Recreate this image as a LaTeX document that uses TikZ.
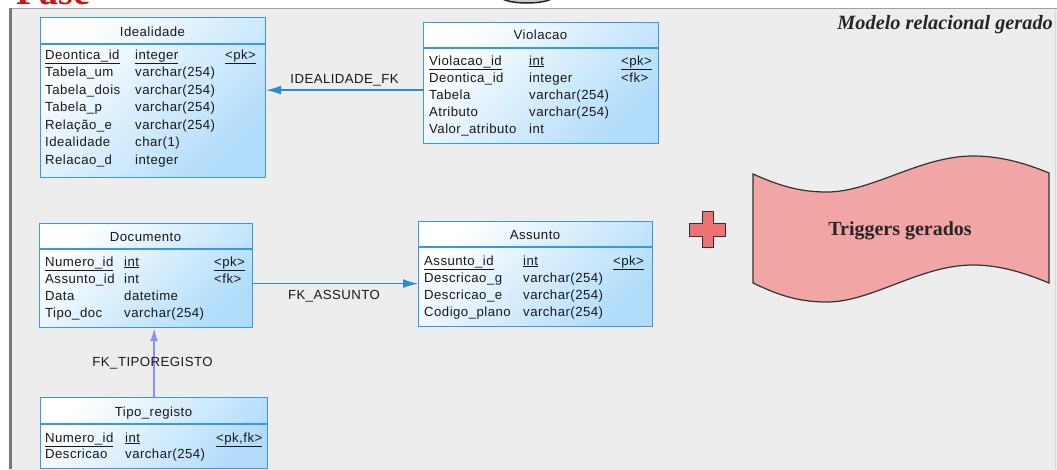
\documentclass[tikz,border=0pt]{standalone}
\usepackage{fontspec}
\setmainfont{Liberation Serif}
\newfontfamily\tabfont[LetterSpace=3.5]{Liberation Sans}
\usetikzlibrary{arrows.meta,shadows}

\definecolor{panelbg}{RGB}{237,237,237}
\definecolor{panelrule}{RGB}{120,120,120}
\definecolor{tblborder}{RGB}{56,150,235}
\definecolor{tblshade}{RGB}{176,220,250}
\definecolor{fkblue}{RGB}{40,140,210}
\definecolor{fkviolet}{RGB}{140,140,250}
\definecolor{bannerfill}{RGB}{242,165,165}
\definecolor{crossfill}{RGB}{240,115,115}
\definecolor{outline}{RGB}{50,50,50}
\definecolor{faseRed}{RGB}{205,20,20}

\tikzset{
  entity/.style={rectangle, draw=tblborder, line width=1.2pt, top color=white,
    bottom color=tblshade, shading angle=45, inner sep=0pt, anchor=north west},
  headsep/.style={draw=tblborder, line width=1.2pt},
  tabtext/.style={font=\tabfont\fontsize{13.2}{15}\selectfont, text=black!90, inner sep=0pt},
  title/.style={tabtext, anchor=base},
  fld/.style={tabtext, anchor=base west},
  fklabel/.style={tabtext, anchor=base},
  fk/.style={draw=fkblue, line width=1.3pt, -{Latex[length=15pt,width=9pt]}},
  fkv/.style={draw=fkviolet, line width=1.6pt, -{Latex[length=13pt,width=8pt]}},
}

% horizontal rule under an entity's title
\newcommand\headrule[2]{\draw[headsep] ([yshift=-#2]#1.north west) -- ([yshift=-#2]#1.north east);}

\begin{document}
\begin{tikzpicture}[x=1pt,y=-1pt]
\useasboundingbox (0,0) rectangle (1057,469);
\clip (0,0) rectangle (1057,469);
\fill[white] (0,0) rectangle (1057,469);

% section heading and the icon above the panel (partly outside the page)
\node[font=\bfseries\fontsize{38}{40}\selectfont, text=faseRed, anchor=base west, inner sep=0pt] (fase) at (16,4) {Fase};
\draw[fill=gray!40, draw=gray!30!black, line width=1.5pt] (527,-4) ellipse [x radius=27, y radius=7];

% panel
\fill[panelbg] (10,8) rectangle (1060,480);
\draw[gray!75, line width=1pt] (10,8.5) -- (1057,8.5);
\draw[gray!30, line width=0.8pt] (1055.5,8.5) -- (1055.5,469);
\draw[panelrule, line width=2.5pt] (10.5,8) -- (10.5,469);

\node[font=\bfseries\itshape\fontsize{20.3}{22}\selectfont, text=black!85, anchor=base east, inner sep=0pt] (caption) at (1053,29) {Modelo relacional gerado};

% ---------- Idealidade ----------
\node[entity, minimum width=225pt, minimum height=160pt] (ideal) at (40,17) {};
\headrule{ideal}{27pt}
\node[title] (ideal-title) at (152.5,36) {Idealidade};
\node[fld] (ideal-pkn) at (45,59) {\underline{Deontica\_id}};
\node[fld] (ideal-pkt) at (135,59) {\underline{integer}};
\node[fld] (ideal-pkk) at (225,59) {\underline{<pk>}};
\foreach \nm/\ty [count=\i] in {Tabela\_um/varchar(254), Tabela\_dois/varchar(254),
    Tabela\_p/varchar(254), Relação\_e/varchar(254), Idealidade/char(1), Relacao\_d/integer}
  {
    \node[fld] (ideal-n\i) at (45,59+17.5*\i) {\nm};
    \node[fld] (ideal-t\i) at (135,59+17.5*\i) {\ty};
  }

% ---------- Violacao ----------
\node[entity, minimum width=235pt, minimum height=121pt] (viol) at (423,22) {};
\headrule{viol}{26pt}
\node[title] (viol-title) at (540.5,39.5) {Violacao};
\node[fld] (viol-pkn) at (429,65) {\underline{Violacao\_id}};
\node[fld] (viol-pkt) at (529,65) {\underline{int}};
\node[fld] (viol-pkk) at (621,65) {\underline{<pk>}};
\node[fld] (viol-fkk) at (621,82.2) {<fk>};
\foreach \nm/\ty [count=\i] in {Deontica\_id/integer, Tabela/varchar(254),
    Atributo/varchar(254), Valor\_atributo/int}
  {
    \node[fld] (viol-n\i) at (429,65+17.2*\i) {\nm};
    \node[fld] (viol-t\i) at (529,65+17.2*\i) {\ty};
  }

% ---------- Documento ----------
\node[entity, minimum width=213pt, minimum height=104pt] (doc) at (39,223) {};
\headrule{doc}{26pt}
\node[title] (doc-title) at (145.5,241) {Documento};
\node[fld] (doc-pkn) at (45,266) {\underline{Numero\_id}};
\node[fld] (doc-pkt) at (124,266) {\underline{int}};
\node[fld] (doc-pkk) at (214,266) {\underline{<pk>}};
\node[fld] (doc-fkk) at (214,283) {<fk>};
\foreach \nm/\ty [count=\i] in {Assunto\_id/int, Data/datetime, Tipo\_doc/varchar(254)}
  {
    \node[fld] (doc-n\i) at (45,266+17.3*\i) {\nm};
    \node[fld] (doc-t\i) at (124,266+17.3*\i) {\ty};
  }

% ---------- Assunto ----------
\node[entity, minimum width=234pt, minimum height=105pt] (asun) at (418,221) {};
\headrule{asun}{26pt}
\node[title] (asun-title) at (535,239) {Assunto};
\node[fld] (asun-pkn) at (424,265) {\underline{Assunto\_id}};
\node[fld] (asun-pkt) at (523,265) {\underline{int}};
\node[fld] (asun-pkk) at (613,265) {\underline{<pk>}};
\foreach \nm/\ty [count=\i] in {Descricao\_g/varchar(254), Descricao\_e/varchar(254),
    Codigo\_plano/varchar(254)}
  {
    \node[fld] (asun-n\i) at (424,265+17.2*\i) {\nm};
    \node[fld] (asun-t\i) at (523,265+17.2*\i) {\ty};
  }

% ---------- Tipo_registo ----------
\node[entity, minimum width=227pt, minimum height=71pt] (tipo) at (40,397) {};
\headrule{tipo}{27pt}
\node[title] (tipo-title) at (153.5,416) {Tipo\_registo};
\node[fld] (tipo-pkn) at (45,442) {\underline{Numero\_id}};
\node[fld] (tipo-pkt) at (125,442) {\underline{int}};
\node[fld] (tipo-pkk) at (216,442) {\underline{<pk,fk>}};
\node[fld] (tipo-n1) at (45,458.5) {Descricao};
\node[fld] (tipo-t1) at (125,458.5) {varchar(254)};

% ---------- references ----------
\draw[fk] ([yshift=-7pt]viol.west) -- ([yshift=-7pt]viol.west -| ideal.east);
\node[fklabel] (fk-ideal) at (344.5,83) {IDEALIDADE\_FK};

\draw[fk] ([yshift=-8pt]doc.east) -- ([yshift=-8pt]doc.east -| asun.west);
\node[fklabel] (fk-asun) at (334,299) {FK\_ASSUNTO};

\draw[fkv] (tipo.north) -- (tipo.north |- doc.south);
\node[fklabel] (fk-tipo) at (152.5,366) {FK\_TIPOREGISTO};

% ---------- generated triggers ----------
\path[draw=outline, fill=crossfill, line width=1pt, drop shadow={shadow xshift=1.2pt, shadow yshift=-1.2pt, opacity=0.25}]
  (702,211) -- (713,211) -- (713,223) -- (725,223) -- (725,236) -- (713,236) -- (713,247)
  -- (702,247) -- (702,236) -- (689,236) -- (689,223) -- (702,223) -- cycle;

\path[draw=outline, fill=bannerfill, line width=1.2pt]
  (753,174) .. controls (780,186) and (800,192) .. (827,192)
  .. controls (872,192) and (920,156) .. (973,156)
  .. controls (1000,156) and (1025,163) .. (1049,173)
  -- (1049,283)
  .. controls (1025,273) and (1000,265) .. (973,265)
  .. controls (920,265) and (872,302) .. (827,302)
  .. controls (800,302) and (780,296) .. (753,283) -- cycle;
\node[font=\bfseries\fontsize{20}{22}\selectfont, text=black!85, inner sep=0pt, anchor=base] (triggers) at (900,235) {Triggers gerados};
\end{tikzpicture}
\end{document}
